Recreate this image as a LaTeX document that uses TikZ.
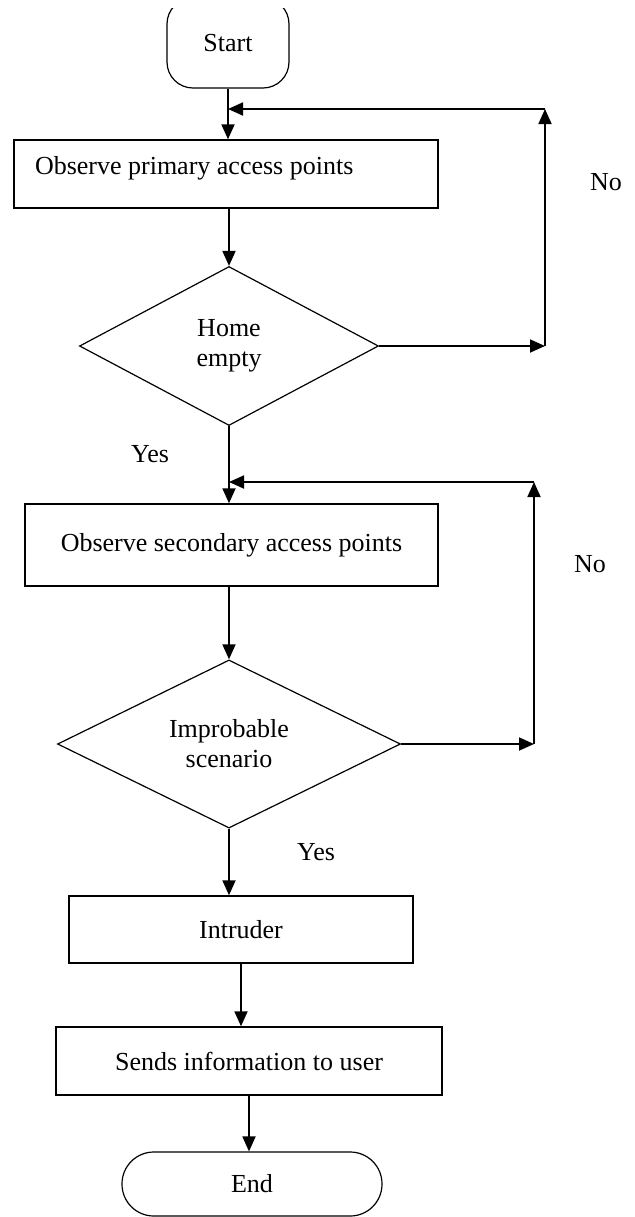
\documentclass[tikz,border=0pt]{standalone}
\usepackage{fontspec}
\setmainfont{Liberation Serif}
\usetikzlibrary{shapes.geometric,arrows.meta}

\tikzset{
  flowbox/.style={draw, rectangle, line width=0.7pt, minimum height=34pt},
  termbox/.style={draw, rectangle, line width=0.6pt},
  decision/.style={draw, diamond, line width=0.6pt, inner sep=0pt, minimum height=79.5pt, align=center},
  arr/.style={-{Triangle[length=7.5pt,width=6.5pt]}, line width=0.9pt},
  note/.style={inner sep=0pt}
}

\begin{document}
\begin{tikzpicture}[x=0.5pt,y=-0.5pt,font=\fontsize{13}{15}\selectfont]
        \useasboundingbox (0,0) rectangle (634,1217);
        \clip (0,8) rectangle (634,1217);

        \node[termbox, rounded corners=13pt, minimum width=61pt, minimum height=45pt] (start) at (228,43) {Start};
        \node[flowbox, minimum width=212pt, inner xsep=10.5pt, text height=5pt, text depth=5pt]
              (box1) at (226,174) {\makebox[191pt][l]{Observe primary access points}};
        \node[decision, minimum width=149.5pt] (dia1) at (229,346) {Home\\empty};
        \node[flowbox, minimum width=206.5pt, minimum height=41pt] (box2) at (231.5,545) {Observe secondary access points};
        \node[decision, minimum width=171.5pt] (dia2) at (229,744) {Improbable\\scenario};
        \node[flowbox, minimum width=172pt, minimum height=33.5pt] (intr) at (241,929.5) {Intruder};
        \node[flowbox, minimum width=193pt] (sends) at (249,1061) {Sends information to user};
        \node[termbox, rounded corners=15.9pt, minimum width=130pt, minimum height=32pt] (end) at (252,1184) {End};

        \coordinate (n1) at (545,109);
        \coordinate (j1) at (228,109);
        \coordinate (n2) at (534,482);
        \coordinate (j2) at (229,482);

        \node[note] (no1) at (606,182) {No};
        \node[note] (no2) at (590,564) {No};
        \node[note] (yes1) at (150,454) {Yes};
        \node[note] (yes2) at (316,852) {Yes};

        \draw[arr] (start.south) -- (start.south |- box1.north);
        \draw[arr] (dia1.north |- box1.south) -- (dia1.north);
        \draw[arr] (dia1.south) -- (dia1.south |- box2.north);
        \draw[arr] (dia2.north |- box2.south) -- (dia2.north);
        \draw[arr] (dia2.south) -- (dia2.south |- intr.north);
        \draw[arr] (intr.south) -- (intr.south |- sends.north);
        \draw[arr] (sends.south) -- (sends.south |- end.north);

        \draw[arr] (dia1.east) -- (dia1.east -| n1);
        \draw[arr] (dia1.east -| n1) -- (n1);
        \draw[arr] (n1) -- (j1);
        \draw[arr] (dia2.east) -- (dia2.east -| n2);
        \draw[arr] (dia2.east -| n2) -- (n2);
        \draw[arr] (n2) -- (j2);
    \end{tikzpicture}
\end{document}
